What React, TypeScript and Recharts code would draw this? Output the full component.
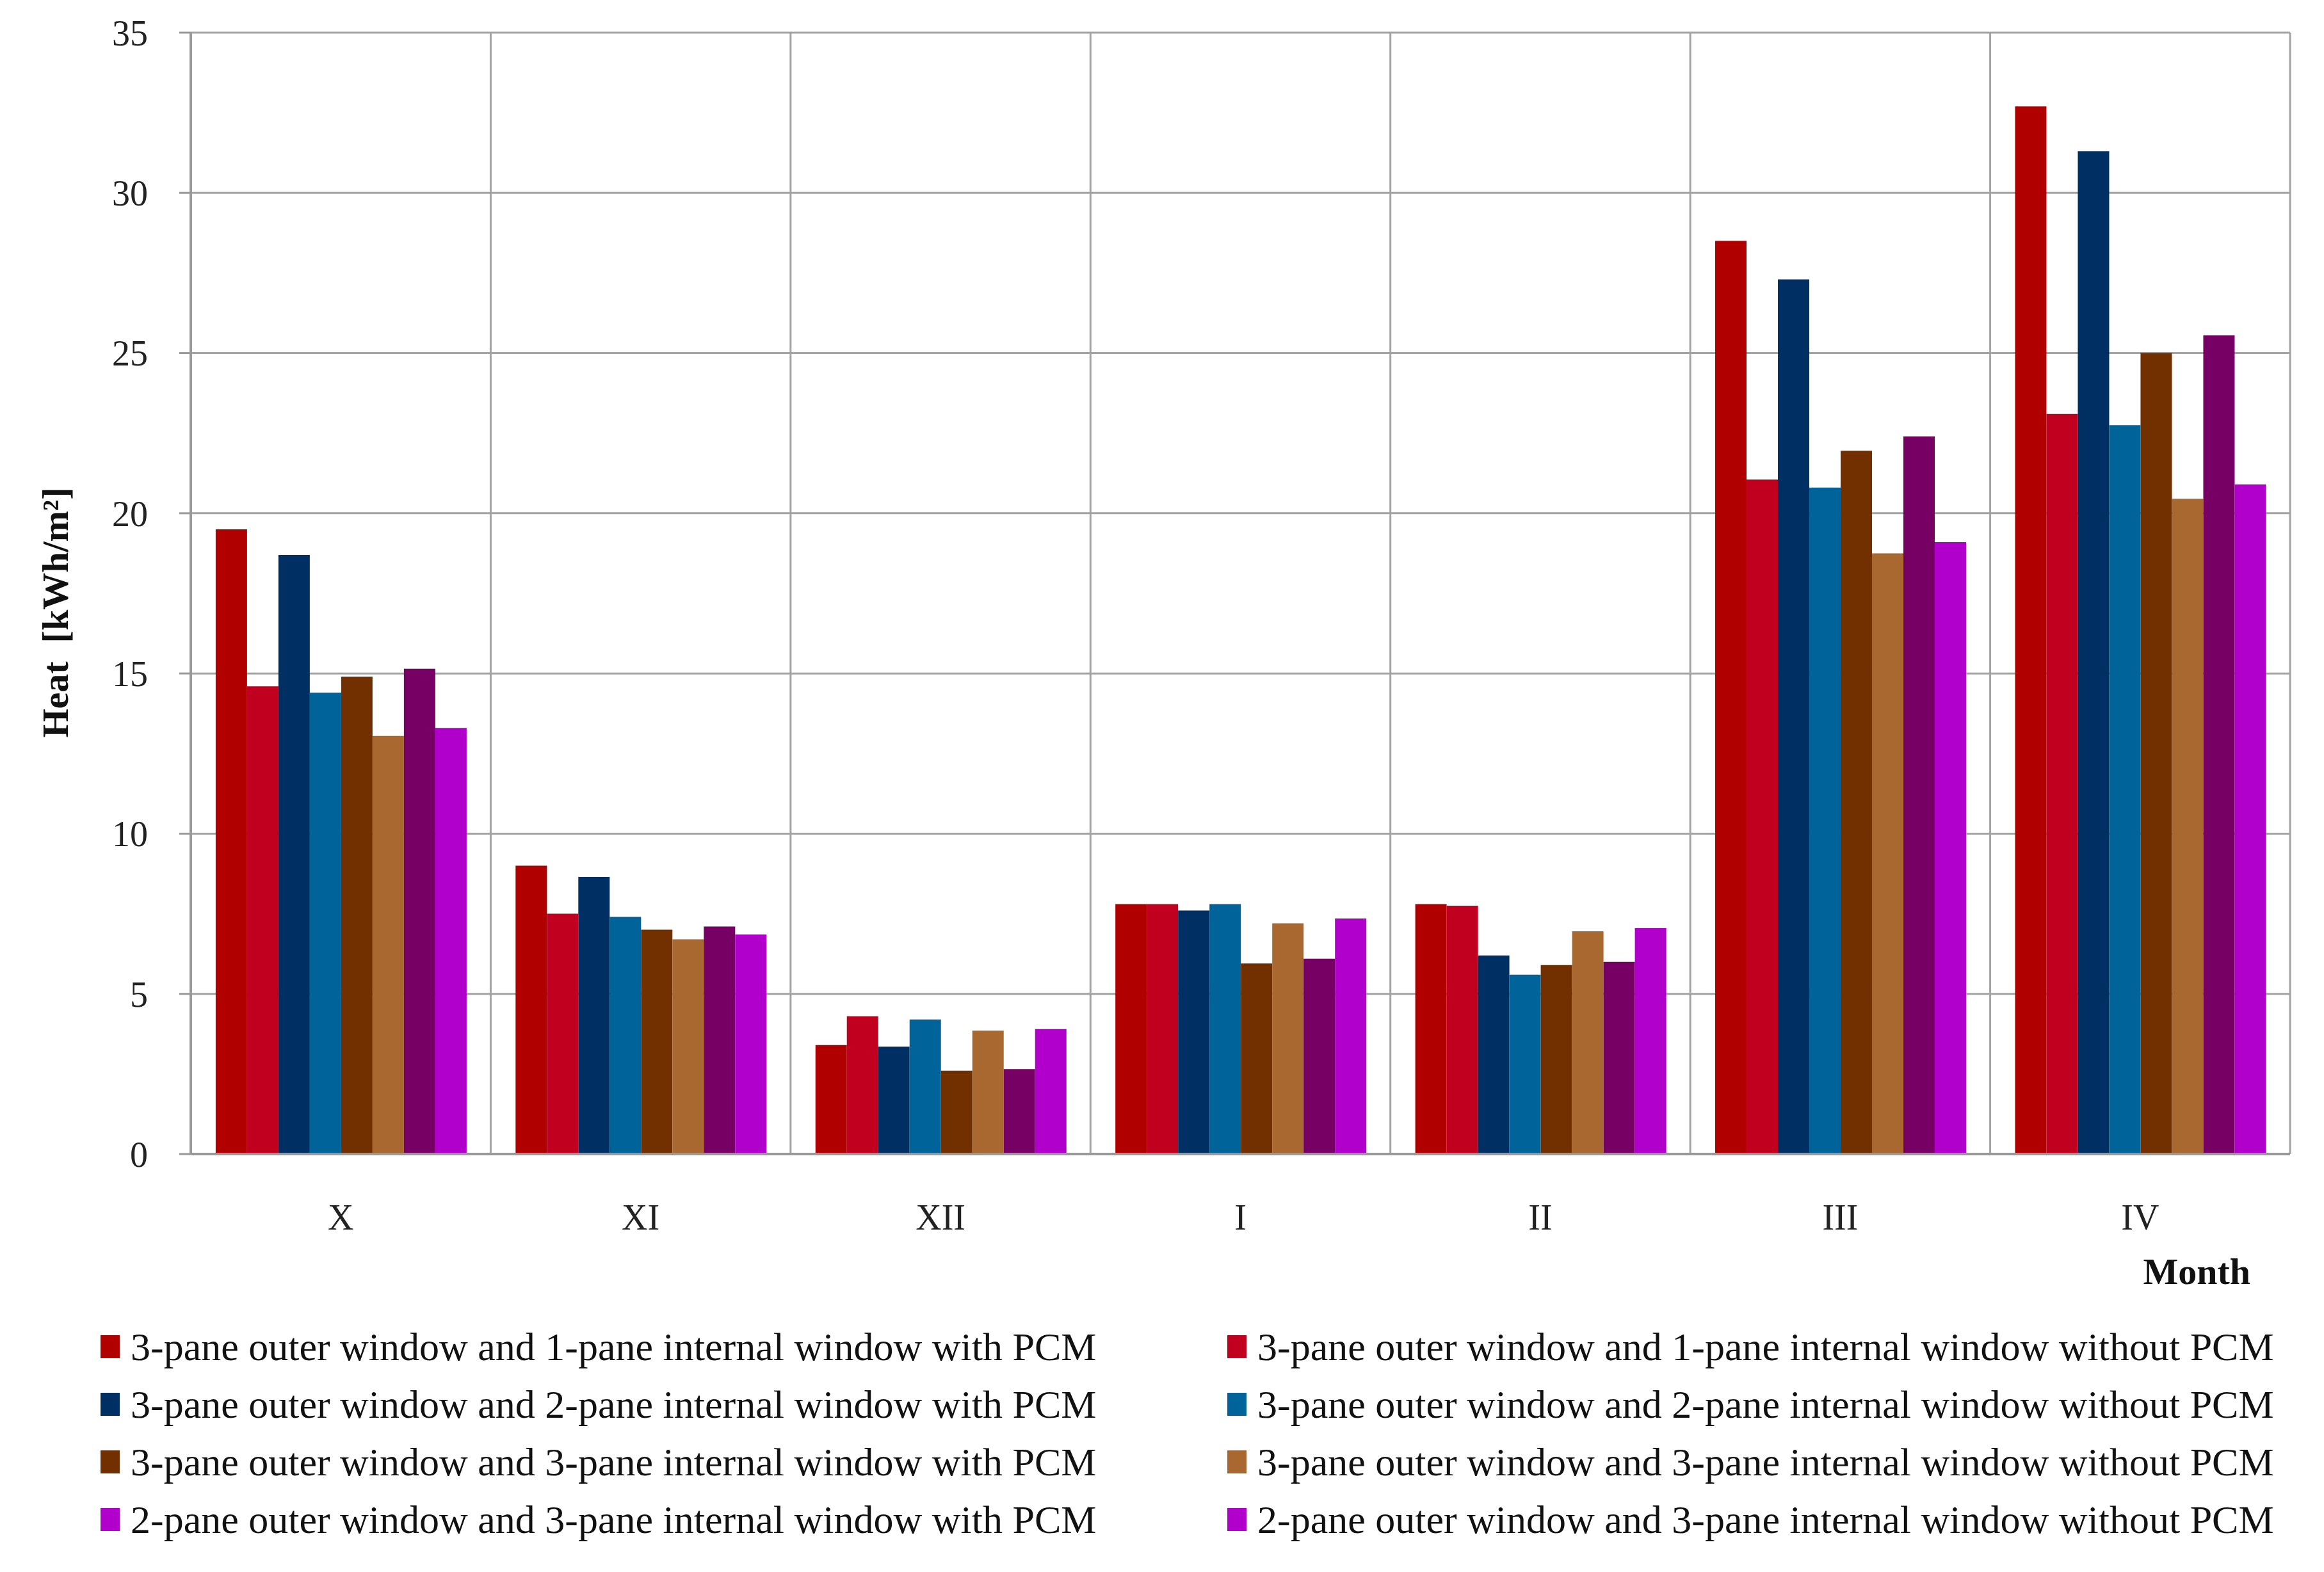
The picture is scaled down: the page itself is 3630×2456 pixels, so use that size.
import { BarChart, Bar, XAxis, YAxis, CartesianGrid } from 'recharts';

const months = ['X', 'XI', 'XII', 'I', 'II', 'III', 'IV'];
const yTicks = [0, 5, 10, 15, 20, 25, 30, 35];

// heat per month, kWh/m2
const outer3inner1Pcm = [19.5, 9.0, 3.4, 7.8, 7.8, 28.5, 32.7];
const outer3inner1NoPcm = [14.6, 7.5, 4.3, 7.8, 7.75, 21.05, 23.1];
const outer3inner2Pcm = [18.7, 8.65, 3.35, 7.6, 6.2, 27.3, 31.3];
const outer3inner2NoPcm = [14.4, 7.4, 4.2, 7.8, 5.6, 20.8, 22.75];
const outer3inner3Pcm = [14.9, 7.0, 2.6, 5.95, 5.9, 21.95, 25.0];
const outer3inner3NoPcm = [13.05, 6.7, 3.85, 7.2, 6.95, 18.75, 20.45];
const outer2inner3Pcm = [15.15, 7.1, 2.65, 6.1, 6.0, 22.4, 25.55];
const outer2inner3NoPcm = [13.3, 6.85, 3.9, 7.35, 7.05, 19.1, 20.9];

const seriesNames = [
  '3-pane outer window and 1-pane internal window with PCM',
  '3-pane outer window and 1-pane internal window without PCM',
  '3-pane outer window and 2-pane internal window with PCM',
  '3-pane outer window and 2-pane internal window without PCM',
  '3-pane outer window and 3-pane internal window with PCM',
  '3-pane outer window and 3-pane internal window without PCM',
  '2-pane outer window and 3-pane internal window with PCM',
  '2-pane outer window and 3-pane internal window without PCM',
];
const seriesValues = [
  outer3inner1Pcm, outer3inner1NoPcm, outer3inner2Pcm, outer3inner2NoPcm,
  outer3inner3Pcm, outer3inner3NoPcm, outer2inner3Pcm, outer2inner3NoPcm,
];
const barColors = ['#b00000', '#c0001e', '#002f63', '#00639a', '#723000', '#a96830', '#770065', '#b200cc'];
// the original legend shows magenta for both 2-pane entries
const legendColors = ['#b00000', '#c0001e', '#002f63', '#00639a', '#723000', '#a96830', '#b200cc', '#b200cc'];

const data = months.map((m, i) => {
  const row: Record<string, string | number> = { month: m };
  seriesValues.forEach((vals, k) => { row['s' + k] = vals[i]; });
  return row;
});

const font = '"Liberation Serif", "Times New Roman", serif';

function YLabel(props: any) {
  const vb = props.viewBox;
  const x = vb.x + 78;
  const y = vb.y + vb.height / 2 + 30;
  return (
    <text x={x} y={y} transform={`rotate(-90, ${x}, ${y})`} textAnchor="middle" dominantBaseline="central"
      fontFamily={font} fontWeight="bold" fontSize={58} fill="#111">
      {'Heat\u00a0 [kWh/m²]'}
    </text>
  );
}

function XLabel(props: any) {
  const vb = props.viewBox;
  return (
    <text x={vb.x + vb.width - 62} y={vb.y + 183} textAnchor="end" dominantBaseline="central"
      fontFamily={font} fontWeight="bold" fontSize={58} fill="#111">
      Month
    </text>
  );
}

export default function App() {
  return (
    <div style={{ position: 'relative', width: 3614, height: 2440, background: '#fff' }}>
      <BarChart width={3614} height={2040} data={data}
        margin={{ top: 43, right: 45, bottom: 45, left: 0 }}
        barCategoryGap="8.3%" barGap={0}>
        <CartesianGrid stroke="#a3a3a3" strokeWidth={3}
          verticalCoordinatesGenerator={({ offset }: any) =>
            months.map((_, i) => offset.left + (i * offset.width) / months.length).concat(offset.left + offset.width)} />
        <XAxis dataKey="month" height={200} tickLine={false} tickSize={0} tickMargin={78}
          axisLine={{ stroke: '#999', strokeWidth: 4 }}
          tick={{ fontFamily: font, fontSize: 56, fill: '#222' }}
          label={<XLabel />} />
        <YAxis width={290} domain={[0, 35]} ticks={yTicks} interval={0} tickSize={18} tickMargin={49}
          axisLine={{ stroke: '#999', strokeWidth: 4 }}
          tickLine={{ stroke: '#999', strokeWidth: 3 }}
          tick={{ fontFamily: font, fontSize: 56, fill: '#222' }}
          label={<YLabel />} />
        {seriesNames.map((name, k) => (
          <Bar key={k} dataKey={'s' + k} name={name} fill={barColors[k]} isAnimationActive={false} />
        ))}
      </BarChart>
      <div style={{
        position: 'absolute', top: 2051, left: 0, width: 3614,
        display: 'grid', gridTemplateColumns: '1760px 1854px',
        fontFamily: font, fontSize: 62, color: '#111',
      }}>
        {seriesNames.map((name, k) => (
          <div key={k} style={{
            height: 90, display: 'flex', alignItems: 'center',
            paddingLeft: k % 2 === 0 ? 149 : 149, whiteSpace: 'nowrap',
          }}>
            <span style={{ display: 'inline-block', width: 30, height: 36, background: legendColors[k], marginRight: 17 }} />
            <span>{name}</span>
          </div>
        ))}
      </div>
    </div>
  );
}
